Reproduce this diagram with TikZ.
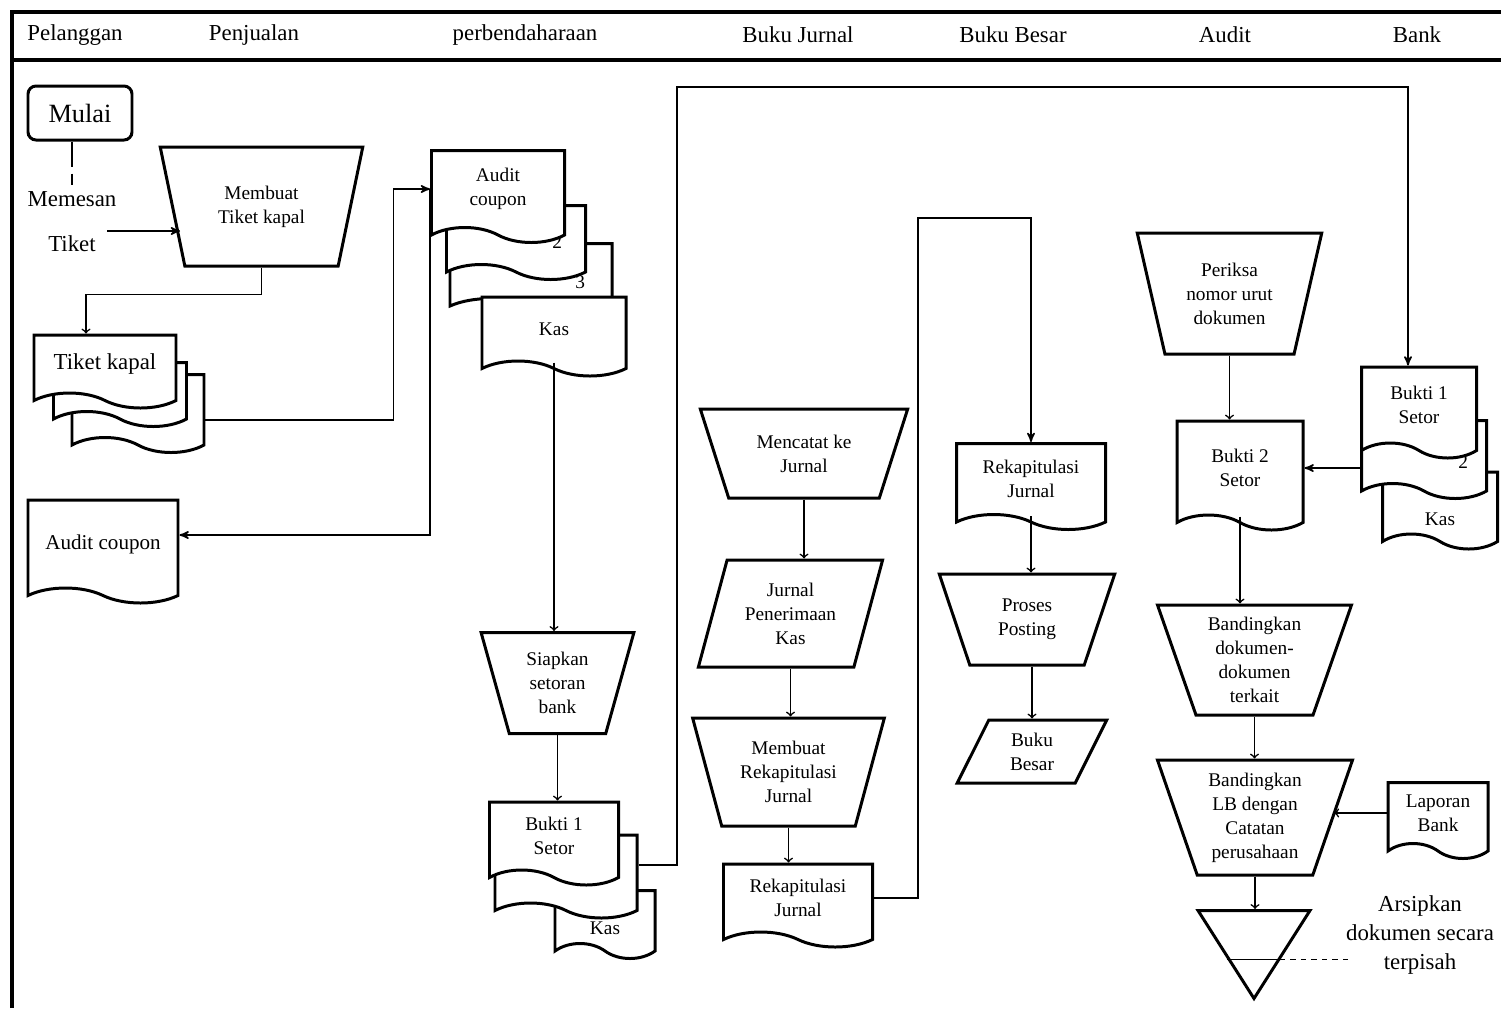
\documentclass[tikz,border=0pt]{standalone}
\usepackage{fontspec}
\setmainfont{Liberation Serif}
\usetikzlibrary{arrows, shapes, positioning, calc}

\begin{document}
\begin{tikzpicture}
    [x=0.2mm, y=-0.2mm, >=stealth', line width=0.9pt,
    flow/.style={->},
    flowv/.style={-to},
    box/.style={draw, fill=white, line width=1.7pt, align=center, inner sep=0pt,
        font=\fontsize{11}{13.6}\selectfont},
    doc/.style 2 args={box, tape, tape bend top=none, tape bend bottom=out and in,
        tape bend height=3mm, minimum width=#1, minimum height=#2},
    manual/.style n args={3}{box, trapezium, shape border rotate=180, trapezium stretches=true,
        trapezium left angle=#3, trapezium right angle=#3, minimum width=#1, minimum height=#2},
    data/.style n args={4}{box, trapezium, trapezium stretches=true,
        trapezium left angle=#3, trapezium right angle=#4, minimum width=#1, minimum height=#2},
    head/.style={font=\fontsize{13}{15}\selectfont}]

    \newcommand{\low}[2]{\raisebox{-#1}[0pt][0pt]{#2}}

    \useasboundingbox (0,0) rectangle (1501,1008);

    % frame and lanes
    \draw[line width=2.3pt] (12,1008) -- (12,12) -- (1501,12);
    \draw[line width=2.3pt] (12,60) -- (1501,60);
    \node[head] (hpel)  at (75,35)   {Pelanggan};
    \node[head] (hpen)  at (254,35)  {Penjualan};
    \node[head] (hper)  at (525,35)  {perbendaharaan};
    \node[head] (hjur)  at (798,35)  {Buku Jurnal};
    \node[head] (hbes)  at (1013,35) {Buku Besar};
    \node[head] (haud)  at (1225,35) {Audit};
    \node[head] (hbank) at (1417,35) {Bank};

    % Pelanggan
    \node[box, rectangle, rounded corners=1.6mm, minimum width=20.8mm, minimum height=10.8mm,
        font=\fontsize{15}{17}\selectfont] (mulai) at (80,113) {Mulai};
    \node[font=\fontsize{13}{15}\selectfont] (memesan) at (72,199) {Memesan};
    \node[font=\fontsize{13}{15}\selectfont] (tiket)   at (72,244) {Tiket};
    \coordinate (pesan) at (107,231);

    \node[doc={26.4mm}{15.6mm}] (tk3) at (138,406) {};
    \node[doc={26.6mm}{12.8mm}] (tk2) at (120,387) {};
    \node[doc={28.4mm}{14.6mm}, font=\fontsize{13}{15}\selectfont] (tk) at (105,364) {Tiket kapal};

    \node[doc={30mm}{20.6mm}, font=\fontsize{12}{14}\selectfont] (coupon) at (103,544) {Audit coupon};

    % Penjualan
    \node[manual={40.6mm}{23.8mm}{71.4}] (mtiket) at (261.5,206.5) {Membuat\\Tiket kapal};

    % perbendaharaan
    \node[doc={32.4mm}{14mm}, text width=21.6mm, align=right] (ac3) at (531,271) {\low{3.5mm}{3}};
    \node[doc={27.8mm}{14.8mm}, text width=18.4mm, align=right] (ac2) at (516,235) {\low{2.7mm}{2}};
    \node[doc={26.6mm}{18.4mm}] (auditc) at (498,189) {Audit\\coupon};
    \node[doc={28.8mm}{15.8mm}] (kas1) at (554,329) {Kas};

    \node[manual={30.6mm}{20.2mm}{73.5}] (siapkan) at (557.5,683) {Siapkan\\setoran\\bank};

    \node[doc={20mm}{13.6mm}] (kas2) at (605,917) {\low{3.4mm}{Kas}};
    \node[doc={28.4mm}{16.6mm}] (b1two) at (566,869) {};
    \node[doc={25.8mm}{16.6mm}] (bukti1) at (554,836) {Bukti 1\\Setor};
    \coordinate (topbend) at (677,87);

    % Buku Jurnal
    \node[manual={41.6mm}{17.8mm}{64.5}] (mencatat) at (804,453.5) {Mencatat ke\\Jurnal};
    \node[data={37mm}{21.4mm}{71.4}{108.6}] (jurnal) at (790.5,613.5) {Jurnal\\Penerimaan\\Kas};
    \node[manual={38.6mm}{21.6mm}{71.1}] (mrekap) at (788.5,772) {Membuat\\Rekapitulasi\\Jurnal};
    \node[doc={29.8mm}{16.6mm}] (rekap) at (798,898) {Rekapitulasi\\Jurnal};
    \coordinate (midtop) at (918,218);

    % Buku Besar
    \node[doc={29.8mm}{17.2mm}] (rekap2) at (1031,479) {Rekapitulasi\\Jurnal};
    \node[manual={35.2mm}{18.2mm}{69.2}] (proses) at (1027,619.5) {Proses\\Posting};
    \node[data={30mm}{12.6mm}{66.8}{113.2}] (bukubesar) at (1032,751.5) {Buku\\Besar};

    % Audit
    \node[manual={37mm}{24.2mm}{73.2}] (periksa) at (1229.5,293.5) {Periksa\\nomor urut\\dokumen};
    \node[doc={25.2mm}{21.8mm}] (bukti2) at (1240,468) {Bukti 2\\Setor};
    \node[manual={39mm}{22mm}{70.2}] (bandingdok) at (1254.5,660) {Bandingkan\\dokumen-\\dokumen\\terkait};
    \node[manual={39.2mm}{23mm}{70.2}] (bandinglb) at (1255,817.5) {Bandingkan\\LB dengan\\Catatan\\perusahaan};
    \node[box, isosceles triangle, isosceles triangle stretches, shape border rotate=-90,
        minimum width=22.4mm, minimum height=17.6mm, anchor=north] (arsip) at (1254,909) {};
    \node[font=\fontsize{13}{16.4}\selectfont, align=center] (arsiptext) at (1420,935)
        {Arsipkan\\dokumen secara\\terpisah};

    % Bank
    \node[doc={23mm}{15.4mm}] (kas3) at (1440,503) {\low{4.4mm}{Kas}};
    \node[doc={25mm}{15.6mm}, text width=17.6mm, align=right] (bb2) at (1424,452) {\low{3.3mm}{2}};
    \node[doc={23mm}{18.2mm}] (bankb1) at (1419,405) {Bukti 1\\Setor};
    \node[doc={20mm}{15.2mm}] (laporan) at (1438,813) {Laporan\\Bank};

    % connectors
    \draw[dash pattern=on 5mm off 1.4mm] (mulai.south -| memesan) -- (memesan.north);
    \draw[flow] (pesan) -- ($(pesan -| mtiket.west)+(9,0)$);
    \draw[flowv] (mtiket.south) -- ++(0,27) -| ($(tk.north)+(-19,0)$);
    \draw[flow] ($(tk3.east)+(0,14)$) -- ++(188,0) |- (auditc.west);
    \draw[flow] (auditc.west) |- ($(coupon.east)+(0,-9)$);
    \draw[flowv] (kas1.south) -- (kas1.south |- siapkan.north);
    \draw[flowv] (siapkan.south) -- (siapkan.south |- bukti1.north);
    \draw[flow] ($(b1two.east)+(0,-4)$) -| (topbend) -| ($(bankb1.north)+(-11,0)$);
    \draw[flowv] (mencatat.south) -- (mencatat.south |- jurnal.north);
    \draw[flowv] (jurnal.south) -- (jurnal.south |- mrekap.north);
    \draw[flowv] (mrekap.south) -- (mrekap.south |- rekap.north);
    \draw[flow] (rekap.east) -| (midtop) -| (rekap2.north);
    \draw[flowv] (rekap2.south) -- (rekap2.south |- proses.north);
    \draw[flowv] (proses.south -| bukubesar.north) -- (bukubesar.north);
    \draw[flowv] (periksa.south) -- (periksa.south |- bukti2.north);
    \draw[flow] (bb2.west |- bukti2.east) -- (bukti2.east);
    \draw[flowv] (bukti2.south) -- (bukti2.south |- bandingdok.north);
    \draw[flowv] (bandingdok.south) -- (bandingdok.south |- bandinglb.north);
    \draw[flowv] (laporan.west) -- (laporan.west -| bandinglb.east);
    \draw[flowv] (bandinglb.south) -- (bandinglb.south |- arsip.north);
    \coordinate (arsl) at ($(arsip.apex)!0.46!(arsip.left corner)$);
    \coordinate (arsr) at ($(arsip.apex)!0.46!(arsip.right corner)$);
    \draw (arsl) -- (arsr);
    \draw[dashed] (arsr) -- ($(arsr -| arsiptext.west)+(12,0)$);
\end{tikzpicture}
\end{document}
